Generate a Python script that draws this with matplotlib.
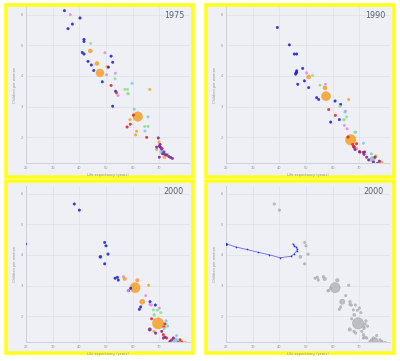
import matplotlib
matplotlib.use("Agg")
import matplotlib.pyplot as plt
from matplotlib.patches import Rectangle

# ---------------- data ----------------
region_colors = {"B": "#2424d4", "O": "#f5a332", "P": "#e48ae8", "G": "#8ee08e",
                 "L": "#7ccaee", "R": "#e62424", "U": "#8c2292"}

# 1975
life_1975 = [34.4, 40.25, 37.4, 35.75, 41.75, 41.75, 41.1, 41.75, 43.25, 44.5, 45.4, 50.9, 51.9, 52.5, 48.6, 53.6, 52.5,
             36.6, 49.6, 50.25, 53.5, 54.5,
             44.25, 53.4, 57.1, 58.25, 58.1, 64.5, 65.75,
             44.1, 46.6, 47.75, 50.4, 61.9, 66.4, 59.0, 61.5, 61.1, 69.9, 69.0, 71.9,
             51.9, 53.9, 60.25, 59.1, 57.9, 65.25,
             59.75, 60.6, 65.75, 64.6, 70.9, 73.1,
             69.6, 70.0, 70.4, 70.9, 70.25, 71.25, 72.1, 72.75, 73.6, 74.25, 74.9, 70.0, 71.75, 69.0]
fert_1975 = [6.14, 5.90, 5.70, 5.55, 5.20, 5.13, 4.77, 4.72, 4.48, 4.36, 4.18, 4.29, 4.65, 4.45, 3.81, 3.50, 3.01,
             6.01, 4.76, 4.04, 4.09, 3.36,
             5.07, 3.91, 3.56, 3.42, 3.56, 2.35, 2.35,
             4.82, 4.41, 4.10, 4.30, 2.67, 3.56, 2.57, 2.19, 2.07, 1.84, 1.59, 1.34,
             3.69, 3.45, 2.72, 2.42, 2.33, 1.99,
             3.76, 2.91, 2.66, 2.20, 1.52, 1.43,
             1.97, 1.70, 1.67, 1.62, 1.76, 1.45, 1.43, 1.41, 1.36, 1.33, 1.30, 1.34, 1.51, 1.67]
pop_1975 = [8] * 17 + [5] * 5 + [5, 5, 5, 30, 5, 5, 5] + \
           [120, 120, 600, 10, 900, 8, 10, 8, 8, 8, 10, 40] + [8] * 6 + \
           [5, 8, 8, 8, 150, 10] + [8, 8, 8, 40, 8, 8, 8, 8, 10, 8, 8, 8, 8, 8]
region_1975 = ["B"] * 17 + ["P"] * 5 + ["G"] * 7 + ["O"] * 12 + ["R"] * 6 + ["L"] * 6 + ["U"] * 14

# 1990
life_1990 = [39.25, 43.75, 45.6, 46.5, 48.75, 46.5, 46.25, 46.5, 46.1, 49.4, 46.9, 51.0, 54.0, 54.75, 60.9, 63.0, 59.25, 62.5,
             51.0, 57.1, 57.5, 66.0, 66.75, 69.0, 76.1, 78.1, 77.5, 75.25,
             50.25, 57.25, 64.75, 64.4, 65.4,
             52.5, 55.25, 62.75, 64.25, 65.25, 68.25,
             64.6, 68.6, 71.5, 74.5, 74.9,
             58.5, 61.0, 65.75, 67.5, 69.0, 70.25, 67.75,
             68.1, 68.4, 70.0, 71.5, 71.75, 72.75, 73.5, 75.25, 76.75, 77.5, 75.9, 72.0]
fert_1990 = [5.59, 5.02, 4.72, 4.72, 4.25, 4.17, 4.10, 4.12, 4.06, 3.84, 3.73, 3.62, 3.29, 3.23, 3.18, 3.07, 2.49, 2.57,
             3.97, 3.61, 3.34, 3.23, 1.91, 1.62, 1.38, 1.16, 1.14, 1.32,
             4.10, 3.73, 2.85, 2.38, 2.27,
             4.02, 3.70, 3.00, 2.57, 2.66, 2.16,
             2.82, 2.16, 1.80, 1.45, 1.27,
             2.90, 2.71, 2.00, 1.76, 1.78, 1.51, 1.70,
             1.67, 1.59, 1.52, 1.50, 1.43, 1.34, 1.25, 1.18, 1.14, 1.21, 1.34, 1.51]
pop_1990 = [8] * 18 + [120, 120, 800, 8, 1100, 10, 10, 120, 8, 8] + [5] * 5 + \
           [5, 5, 5, 30, 5, 5] + [5, 8, 8, 8, 250] + [8] * 7 + [40] + [8] * 11
region_1990 = ["B"] * 18 + ["O"] * 10 + ["P"] * 5 + ["G"] * 6 + ["L"] * 5 + ["R"] * 7 + ["U"] * 12

# 2000
life_2000 = [38.1, 40.0, 19.8, 49.5, 50.0, 50.75, 47.9, 49.5, 53.4, 54.25, 54.6, 58.4, 62.5, 63.0, 66.5, 68.5, 59.25,
             57.0, 61.75, 60.9, 66.0, 63.6, 69.5, 68.0, 78.4, 79.75,
             56.5, 58.25, 64.9, 66.5, 67.0, 70.0,
             68.1, 69.25, 70.6, 67.75, 71.75,
             72.5, 73.1, 75.9, 76.5,
             67.1, 72.1, 71.75, 71.5, 72.75, 74.6, 77.75,
             66.4, 68.6, 70.9, 71.5, 72.1, 74.0, 77.1, 78.4, 79.0, 75.25]
fert_2000 = [5.67, 5.47, 4.36, 4.41, 4.30, 4.03, 3.94, 3.71, 3.24, 3.27, 3.18, 2.83, 2.22, 2.30, 2.47, 2.36, 2.91,
             3.22, 3.17, 2.93, 3.01, 2.47, 1.76, 1.50, 1.17, 1.13,
             3.29, 2.83, 2.67, 2.38, 2.36, 2.26,
             2.04, 2.19, 2.11, 2.20, 1.59,
             1.84, 1.67, 1.20, 1.36,
             1.91, 1.74, 1.64, 1.39, 1.28, 1.22, 1.22,
             1.56, 1.44, 1.50, 1.28, 1.31, 1.17, 1.13, 1.13, 1.11, 1.28]
pop_2000 = [8, 8, 5, 8, 8, 8, 40, 8, 8, 8, 8, 8, 8, 8, 8, 8, 8] + \
           [70, 70, 1000, 8, 220, 1250, 8, 8, 8] + [5] * 6 + [30, 5, 5, 5, 5] + \
           [8, 8, 280, 8] + [8] * 7 + [60, 8, 8, 8, 8, 8, 8, 8, 8, 8]
region_2000 = ["B"] * 17 + ["O"] * 9 + ["P"] * 6 + ["G"] * 5 + ["L"] * 4 + ["R"] * 7 + ["U"] * 10

# trail of one country up to 2000
trail_life = [45.0, 45.6, 46.25, 46.75, 46.5, 45.6, 44.4, 40.25, 36.1, 32.0, 27.9, 23.75, 19.9]
trail_fert = [4.37, 4.31, 4.27, 4.20, 4.13, 4.04, 3.96, 3.91, 4.01, 4.09, 4.18, 4.26, 4.37]

x_ticks = [20, 30, 40, 50, 60, 70]
y_ticks = [2, 3, 4, 5, 6]
x_label = "Life expectancy (years)"
y_label = "Children per woman"

# ---------------- figure ----------------
W, H = 400, 361
fig = plt.figure(figsize=(W / 100, H / 100), dpi=100)
fig.patch.set_facecolor("white")


def px_rect(x0, y0, x1, y1):
    return [x0 / W, 1 - y1 / H, (x1 - x0) / W, (y1 - y0) / H]


panels = [
    ((4, 3, 195, 179), (26, 7, 190, 163), (185, 15), "1975", (life_1975, fert_1975, pop_1975, region_1975), False),
    ((204, 3, 396, 179), (226, 7, 390, 163), (385, 15), "1990", (life_1990, fert_1990, pop_1990, region_1990), False),
    ((4, 179, 195, 355), (26, 186, 190, 342), (184, 192), "2000", (life_2000, fert_2000, pop_2000, region_2000), False),
    ((204, 179, 396, 355), (226, 186, 390, 342), (384, 192), "2000", (life_2000, fert_2000, pop_2000, region_2000), True),
]

for outer, inner, ypos, year, (lx, fy, pp, rg), grey in panels:
    x0, y0, x1, y1 = outer
    bw = 3.5
    fig.patches.append(Rectangle(((x0 + bw / 2) / W, 1 - (y1 - bw / 2) / H),
                                 (x1 - x0 - bw) / W, (y1 - y0 - bw) / H,
                                 transform=fig.transFigure, facecolor="#eff0f5",
                                 edgecolor="#ffff1a", linewidth=bw * 0.72, zorder=-5))
    ax = fig.add_axes(px_rect(*inner))
    ax.set_zorder(1)
    ax.set_facecolor("none")
    ax.set_xlim(20, 81.5)
    ax.set_ylim(1.15, 6.26)
    ax.set_xticks(x_ticks)
    ax.set_yticks(y_ticks)
    ax.grid(True, color="#dfe1e9", linewidth=0.5)
    ax.set_axisbelow(True)
    for s in ["top", "right"]:
        ax.spines[s].set_visible(False)
    for s in ["left", "bottom"]:
        ax.spines[s].set_color("#c9ccd6")
        ax.spines[s].set_linewidth(0.6)
    ax.tick_params(length=0, labelsize=2.5, labelcolor="#8a90a0", pad=2)
    ax.set_xlabel(x_label, fontsize=2.5, color="#8a90a0", labelpad=2)
    ax.set_ylabel(y_label, fontsize=2.5, color="#8a90a0", labelpad=3)

    sizes = [2.8 + 0.05 * p for p in pp]
    order = sorted(range(len(lx)), key=lambda i: -pp[i])
    if grey:
        cols = ["#b9b9bd"] * len(lx)
        edges = ["#9c9ca2"] * len(lx)
    else:
        cols = [region_colors[rg[i]] for i in range(len(lx))]
        edges = cols
    ax.scatter([lx[i] for i in order], [fy[i] for i in order],
               s=[sizes[i] for i in order], c=[cols[i] for i in order],
               edgecolors=[edges[i] for i in order], linewidths=0.3, alpha=0.9, zorder=3)
    if grey:
        ax.plot(trail_life, trail_fert, color="#6a6ae6", linewidth=0.6, zorder=4)
        ax.scatter(trail_life, trail_fert, s=1.5, color="#3030d8", zorder=5, linewidths=0)
        ax.scatter([trail_life[-1]], [trail_fert[-1]], s=4, color="#2424d4", zorder=6, linewidths=0)
    fig.text(ypos[0] / W, 1 - ypos[1] / H, year, ha="right", va="center",
             fontsize=5.8, color="#58626e", zorder=10)

fig.savefig("out.png", dpi=100, facecolor="white")
